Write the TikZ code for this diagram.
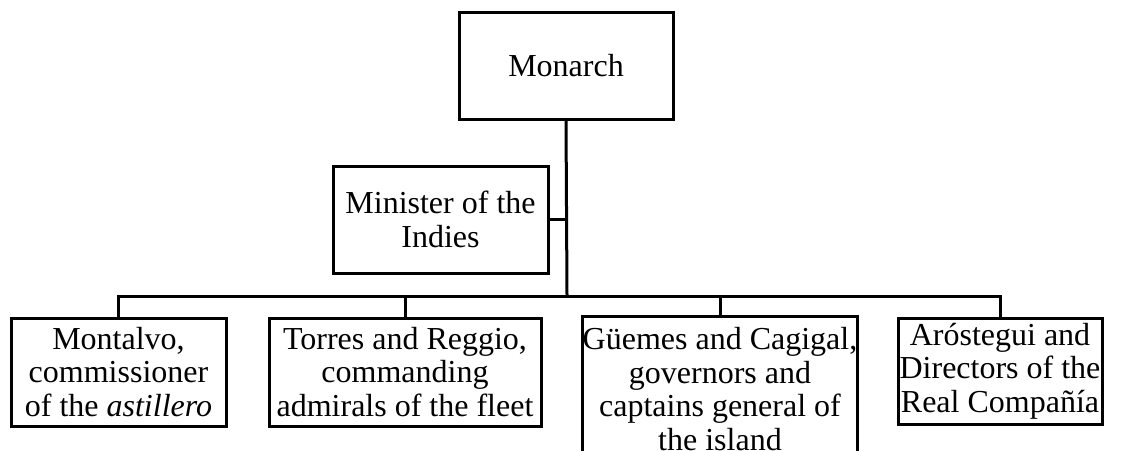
\documentclass[tikz,border=0pt]{standalone}
\usepackage{fontspec}
\setmainfont{Liberation Serif}
\usepackage{tikz}
\usetikzlibrary{positioning}
\tikzstyle{office} = [rectangle, draw=black, line width=1.5pt, align=center, inner sep=0pt, font=\fontsize{16}{16.75}\selectfont]
\tikzstyle{link} = [line width=1.5pt, color=black]

\begin{document}
\begin{tikzpicture}[x=0.5pt, y=-0.5pt]
\useasboundingbox (0,0) rectangle (1127,450);
% chain of command
\node (monarch) [office, minimum width=107pt, minimum height=53.5pt] at (566,65.5) {Monarch};
\node (minister) [office, minimum width=107.5pt, minimum height=53.5pt] at (440.5,219.5) {Minister of the\\Indies};
\coordinate (bus) at (567,296);

% subordinates
\node (montalvo) [office, minimum width=107.5pt, minimum height=54pt] at (118.5,372) {Montalvo,\\commissioner\\of the \textit{astillero}};
\node (torres) [office, minimum width=136pt, minimum height=54pt] at (405,372) {Torres and Reggio,\\commanding\\admirals of the fleet};
\node (guemes) [office, minimum width=136pt, minimum height=72.5pt] at (720,389) {Güemes and Cagigal,\\governors and\\captains general of\\the island};
\node (arostegui) [office, minimum width=102pt, minimum height=53pt] at (1000,371) {Aróstegui and\\Directors of the\\Real Compañía};

\draw[link] (monarch.south) -- (bus);
\draw[link] (minister.east) -- (minister.east -| bus);
\draw[link] (montalvo.north) |- (bus) -| (arostegui.north);
\draw[link] (torres.north) -- (torres.north |- bus);
\draw[link] (guemes.north) -- (guemes.north |- bus);
\end{tikzpicture}
\end{document}
